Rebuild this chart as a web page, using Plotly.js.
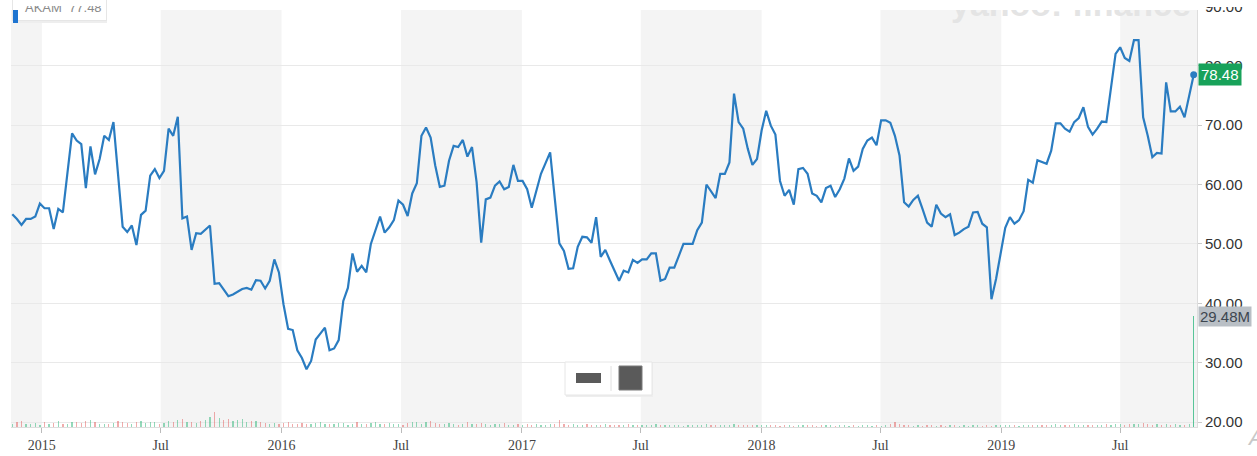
<!DOCTYPE html>
<html>
<head>
<meta charset="utf-8">
<script src="https://cdn.plot.ly/plotly-3.0.1.min.js"></script>
<style>html,body{margin:0;padding:0;background:#fff;}#chart{width:1257px;height:456px;}</style>
</head>
<body>
<div id="chart"></div>
<script>
// Weekly dates (Mondays)
const dates = [
'2014-11-17','2014-11-24','2014-12-01','2014-12-08','2014-12-15','2014-12-22','2014-12-29',
'2015-01-05','2015-01-12','2015-01-19','2015-01-26','2015-02-02','2015-02-09','2015-02-16','2015-02-23','2015-03-02','2015-03-09','2015-03-16','2015-03-23','2015-03-30','2015-04-06','2015-04-13','2015-04-20','2015-04-27','2015-05-04','2015-05-11','2015-05-18','2015-05-25','2015-06-01','2015-06-08','2015-06-15','2015-06-22','2015-06-29','2015-07-06','2015-07-13','2015-07-20','2015-07-27','2015-08-03','2015-08-10','2015-08-17','2015-08-24','2015-08-31','2015-09-07','2015-09-14','2015-09-21','2015-09-28','2015-10-05','2015-10-12','2015-10-19','2015-10-26','2015-11-02','2015-11-09','2015-11-16','2015-11-23','2015-11-30','2015-12-07','2015-12-14','2015-12-21','2015-12-28',
'2016-01-04','2016-01-11','2016-01-18','2016-01-25','2016-02-01','2016-02-08','2016-02-15','2016-02-22','2016-02-29','2016-03-07','2016-03-14','2016-03-21','2016-03-28','2016-04-04','2016-04-11','2016-04-18','2016-04-25','2016-05-02','2016-05-09','2016-05-16','2016-05-23','2016-05-30','2016-06-06','2016-06-13','2016-06-20','2016-06-27','2016-07-04','2016-07-11','2016-07-18','2016-07-25','2016-08-01','2016-08-08','2016-08-15','2016-08-22','2016-08-29','2016-09-05','2016-09-12','2016-09-19','2016-09-26','2016-10-03','2016-10-10','2016-10-17','2016-10-24','2016-10-31','2016-11-07','2016-11-14','2016-11-21','2016-11-28','2016-12-05','2016-12-12','2016-12-19','2016-12-26',
'2017-01-02','2017-01-09','2017-01-16','2017-01-23','2017-01-30','2017-02-06','2017-02-13','2017-02-20','2017-02-27','2017-03-06','2017-03-13','2017-03-20','2017-03-27','2017-04-03','2017-04-10','2017-04-17','2017-04-24','2017-05-01','2017-05-08','2017-05-15','2017-05-22','2017-05-29','2017-06-05','2017-06-12','2017-06-19','2017-06-26','2017-07-03','2017-07-10','2017-07-17','2017-07-24','2017-07-31','2017-08-07','2017-08-14','2017-08-21','2017-08-28','2017-09-04','2017-09-11','2017-09-18','2017-09-25','2017-10-02','2017-10-09','2017-10-16','2017-10-23','2017-10-30','2017-11-06','2017-11-13','2017-11-20','2017-11-27','2017-12-04','2017-12-11','2017-12-18','2017-12-25',
'2018-01-01','2018-01-08','2018-01-15','2018-01-22','2018-01-29','2018-02-05','2018-02-12','2018-02-19','2018-02-26','2018-03-05','2018-03-12','2018-03-19','2018-03-26','2018-04-02','2018-04-09','2018-04-16','2018-04-23','2018-04-30','2018-05-07','2018-05-14','2018-05-21','2018-05-28','2018-06-04','2018-06-11','2018-06-18','2018-06-25','2018-07-02','2018-07-09','2018-07-16','2018-07-23','2018-07-30','2018-08-06','2018-08-13','2018-08-20','2018-08-27','2018-09-03','2018-09-10','2018-09-17','2018-09-24','2018-10-01','2018-10-08','2018-10-15','2018-10-22','2018-10-29','2018-11-05','2018-11-12','2018-11-19','2018-11-26','2018-12-03','2018-12-10','2018-12-17','2018-12-24','2018-12-31',
'2019-01-07','2019-01-14','2019-01-21','2019-01-28','2019-02-04','2019-02-11','2019-02-18','2019-02-25','2019-03-04','2019-03-11','2019-03-18','2019-03-25','2019-04-01','2019-04-08','2019-04-15','2019-04-22','2019-04-29','2019-05-06','2019-05-13','2019-05-20','2019-05-27','2019-06-03','2019-06-10','2019-06-17','2019-06-24','2019-07-01','2019-07-08','2019-07-15','2019-07-22','2019-07-29','2019-08-05','2019-08-12','2019-08-19','2019-08-26','2019-09-02','2019-09-09','2019-09-16','2019-09-23','2019-09-30','2019-10-07','2019-10-14','2019-10-21'
];

// Weekly closing prices
const closes = [
55.0,54.2,53.2,54.2,54.2,54.6,56.8,
56.0,56.0,52.5,55.9,55.3,62.0,68.6,67.4,66.8,59.4,66.4,61.7,64.3,68.2,67.5,70.5,61.5,52.9,52.0,53.1,49.8,54.9,55.6,61.5,62.6,61.1,62.3,69.4,68.2,71.4,54.3,54.6,49.0,51.8,51.7,52.4,53.1,43.3,43.4,42.3,41.2,41.5,41.9,42.4,42.6,42.3,43.9,43.8,42.5,43.8,47.4,45.2,
39.8,35.7,35.5,32.1,30.8,28.9,30.3,33.9,34.9,35.9,32.1,32.4,33.8,40.4,42.6,48.4,45.3,46.3,45.2,50.0,52.3,54.6,51.9,52.8,54.0,57.3,56.6,54.7,58.5,60.2,68.2,69.6,67.9,63.2,59.6,59.8,64.0,66.5,66.3,67.5,64.7,66.3,60.4,50.2,57.5,57.8,59.8,60.5,59.2,59.6,63.3,60.6,
60.6,59.2,56.1,59.2,61.8,63.6,65.4,57.7,50.1,48.8,45.8,45.9,49.5,51.2,51.1,50.2,54.5,47.8,49.0,47.2,45.5,43.8,45.5,45.2,47.3,46.8,47.4,47.4,48.4,48.4,43.8,44.1,46.0,46.0,48.0,50.0,50.0,50.0,52.3,53.6,60.0,58.8,57.7,61.8,61.8,63.7,75.3,70.5,69.4,66.0,63.3,64.3,
69.1,72.4,69.9,68.4,60.6,58.1,59.1,56.6,62.6,62.8,61.8,58.5,58.1,57.0,59.4,59.8,57.9,59.2,61.0,64.4,62.3,63.0,66.0,67.4,67.9,66.6,70.8,70.8,70.4,68.2,64.9,57.0,56.3,57.4,58.1,55.9,53.6,52.9,56.6,55.1,54.5,55.0,51.5,51.9,52.5,52.9,55.3,55.4,53.4,52.8,40.7,44.1,48.5,
52.7,54.5,53.4,54.0,55.5,60.8,60.3,64.1,63.8,63.5,65.7,70.3,70.3,69.4,68.9,70.5,71.2,73.0,69.7,68.4,69.4,70.6,70.5,76.7,82.0,83.1,81.3,80.8,84.3,84.3,71.3,68.2,64.6,65.3,65.2,77.2,72.3,72.3,73.1,71.3,74.9,78.48
];

// Weekly volume, millions of shares
const volumesM = [
0.8,1.2,1.6,0.9,0.7,1.1,0.6,
1.3,0.9,1.0,1.5,0.8,0.9,1.2,1.4,1.0,1.6,1.9,1.3,0.8,0.7,
0.9,1.1,1.7,1.2,1.0,0.8,1.3,1.5,1.0,1.2,1.4,0.9,1.1,1.6,1.3,1.8,2.1,1.4,1.2,1.0,
1.5,1.9,2.6,3.9,2.4,1.8,2.1,1.6,1.9,2.2,1.3,1.5,1.7,1.2,1.0,0.9,1.1,0.8,
1.0,1.3,0.9,0.8,1.1,0.7,0.9,1.0,1.2,0.8,0.7,0.9,1.0,1.1,0.6,0.8,1.2,0.9,0.7,1.0,1.3,0.8,
0.9,1.1,0.8,0.7,0.6,1.0,1.4,1.2,0.9,1.3,1.5,1.1,0.8,0.9,1.0,0.7,0.6,0.9,1.2,0.8,0.7,1.0,0.9,0.6,0.8,0.7,1.1,0.6,0.5,0.7,
0.6,0.7,0.5,0.8,0.6,0.5,0.9,0.7,1.9,0.8,0.6,0.7,0.5,0.6,0.8,0.5,0.4,0.6,0.7,0.5,0.6,0.4,0.5,0.7,0.6,0.5,0.4,0.6,0.5,0.7,
0.5,0.4,0.6,0.5,0.4,0.3,0.5,0.6,0.4,0.5,0.7,0.5,0.4,0.6,0.5,0.4,0.8,0.6,0.5,0.4,0.5,0.6,
0.4,0.5,0.6,0.4,0.3,0.5,0.4,0.3,0.4,0.5,0.4,0.6,0.3,0.4,0.5,0.4,0.3,0.4,0.5,0.3,0.4,0.3,0.5,0.4,0.3,0.4,0.3,0.5,
0.7,1.3,0.9,0.5,0.4,0.3,0.4,0.3,0.5,0.4,0.3,0.4,0.3,0.4,0.5,0.3,0.4,0.3,0.4,0.5,0.3,0.4,0.3,0.6,0.5,
0.4,0.5,0.4,0.3,0.4,0.5,0.6,0.5,0.4,0.6,0.5,0.7,0.6,0.5,0.6,0.7,0.5,0.6,0.5,0.4,0.6,0.5,0.7,0.6,0.8,
0.7,0.6,0.9,0.8,0.7,1.0,0.8,0.6,0.7,0.5,0.8,0.6,0.7,0.6,0.5,0.7,29.48
];

const xTickVals = ['2015-01-01','2015-07-01','2016-01-01','2016-07-01','2017-01-01','2017-07-01','2018-01-01','2018-07-01','2019-01-01','2019-07-01'];
const xTickText = ['2015','Jul','2016','Jul','2017','Jul','2018','Jul','2019','Jul'];
const yTickVals = [20,30,40,50,60,70,80,90];
const shadedStarts = ['2014-11-15','2015-07-01','2016-07-01','2017-07-01','2018-07-01','2019-07-01'];
const shadedEnds   = ['2015-01-01','2016-01-01','2017-01-01','2018-01-01','2019-01-01','2019-10-26'];
const xRange = ['2014-11-15','2019-10-26'];
const legendLabel = 'AKAM  77.48';

// pixel helpers for chrome (plot area: x 11..1197, y 0..427)
const PL = 11, PW = 1186, PH = 427;
const px = v => (v - PL) / PW;
const py = v => (PH - v) / PH;

const volColors = closes.map((c, i) => (i === 0 || c >= closes[i-1]) ? 'rgba(60,185,130,0.55)' : 'rgba(225,90,90,0.5)');
volColors[volColors.length-1] = 'rgba(50,185,130,0.8)';

const last = closes.length - 1;
const blue = '#2a7cc1';

const traces = [
  {type:'bar', x:dates, y:volumesM, yaxis:'y2', marker:{color:volColors, line:{width:0}}, width:1.9*86400000, hoverinfo:'skip', showlegend:false},
  {type:'scatter', mode:'lines', x:dates, y:closes, line:{color:blue, width:2.2}, hoverinfo:'skip', showlegend:false},
  {type:'scatter', mode:'markers', x:[dates[last]], y:[closes[last]], marker:{color:blue, size:7}, hoverinfo:'skip', showlegend:false}
];

const shapes = [];
for (let i = 0; i < shadedStarts.length; i++) {
  shapes.push({type:'rect', xref:'x', yref:'paper', x0:shadedStarts[i], x1:shadedEnds[i], y0:0, y1:1, fillcolor:'#f4f4f4', line:{width:0}, layer:'below'});
}
// range buttons (center bottom)
shapes.push({type:'rect', xref:'paper', yref:'paper', x0:px(566), x1:px(653), y0:py(397), y1:py(363), fillcolor:'#eeeeee', line:{width:0}, layer:'above'});
shapes.push({type:'rect', xref:'paper', yref:'paper', x0:px(565), x1:px(652), y0:py(395), y1:py(362), fillcolor:'#ffffff', line:{color:'#e6e6e6', width:1}, layer:'above'});
shapes.push({type:'rect', xref:'paper', yref:'paper', x0:px(576), x1:px(601), y0:py(383), y1:py(373), fillcolor:'#5a5a5a', line:{width:0}, layer:'above'});
shapes.push({type:'line', xref:'paper', yref:'paper', x0:px(611), x1:px(611), y0:py(391), y1:py(366), line:{color:'#e0e0e0', width:1}, layer:'above'});
shapes.push({type:'rect', xref:'paper', yref:'paper', x0:px(619), x1:px(642), y0:py(390), y1:py(366), fillcolor:'#5a5a5a', line:{color:'#7a7a7a', width:1}, layer:'above'});

// white strip helper (annotation boxes drawn in order, so later ones cover earlier ones)
const cover = (x0, x1, h, color) => ({xref:'paper', yref:'paper', x:px(x0), y:1, xanchor:'left', yanchor:'top',
  width:x1-x0, height:h, text:'&nbsp;', bgcolor:color || '#ffffff', borderpad:0, borderwidth:0, showarrow:false, font:{size:4}});

const annotations = [
  {xref:'paper', yref:'y', x:1, y:closes[last], xanchor:'left', yanchor:'middle', xshift:1, showarrow:false,
   text:closes[last].toFixed(2), bgcolor:'#18a25a', borderpad:2, font:{family:'Liberation Sans, Arial', size:15, color:'#ffffff'}},
  {xref:'paper', yref:'y2', x:1, y:volumesM[last], xanchor:'left', yanchor:'middle', xshift:1, showarrow:false,
   text:volumesM[last].toFixed(2)+'M', bgcolor:'#b9bfc5', borderpad:1, font:{family:'Liberation Sans, Arial', size:15, color:'#3d4650'}},
  {xref:'paper', yref:'paper', x:px(1071), y:1, xanchor:'center', yanchor:'bottom', yshift:-25, showarrow:false,
   text:'<b>yahoo! finance</b>', font:{family:'Liberation Sans, Arial', size:34, color:'#e4e4e4'}},
  {xref:'paper', yref:'paper', x:px(1245), y:py(437), xanchor:'left', yanchor:'middle', showarrow:false,
   text:'<i>A</i>', font:{family:'Liberation Sans, Arial', size:22, color:'#c8c8c8'}},
  // top white strip above the plot area, and clipping of the top tick label
  cover(0, 1198, 10),
  cover(1198, 1257, 7),
  // legend box (cut at the top)
  {xref:'paper', yref:'paper', x:px(13), y:py(23), xanchor:'left', yanchor:'bottom', width:94, height:30,
   text:'&nbsp;', bgcolor:'#eeeeee', borderpad:0, borderwidth:0, showarrow:false, font:{size:4}},
  {xref:'paper', yref:'paper', x:px(12), y:py(21), xanchor:'left', yanchor:'bottom', width:93, height:30,
   text:'&nbsp;', bgcolor:'#ffffff', bordercolor:'#e6e6e6', borderpad:0, borderwidth:1, showarrow:false, font:{size:4}},
  {xref:'paper', yref:'paper', x:px(13), y:py(23), xanchor:'left', yanchor:'bottom', width:5, height:13,
   text:'&nbsp;', bgcolor:'#1e74d0', borderpad:0, borderwidth:0, showarrow:false, font:{size:4}},
  {xref:'paper', yref:'paper', x:px(24), y:py(16), xanchor:'left', yanchor:'bottom', showarrow:false, borderpad:0,
   text:legendLabel, font:{family:'Liberation Sans, Arial', size:13, color:'#8a8a8a'}},
  cover(21, 104, 6)
];

const layout = {
  width:1257, height:456,
  margin:{l:PL, r:1257-PL-PW, t:0, b:456-PH},
  paper_bgcolor:'#ffffff', plot_bgcolor:'#ffffff',
  showlegend:false,
  xaxis:{type:'date', range:xRange, tickmode:'array', tickvals:xTickVals, ticktext:xTickText,
    tickfont:{family:'Liberation Serif, Times New Roman', size:14, color:'#444'},
    showgrid:false, zeroline:false, showline:true, linecolor:'#dddddd', linewidth:1,
    ticks:'outside', ticklen:5, tickcolor:'#bbbbbb', fixedrange:true},
  yaxis:{side:'right', range:[19.18, 91.06], tickmode:'array', tickvals:yTickVals, tickformat:'.2f',
    tickfont:{family:'Liberation Sans, Arial', size:15, color:'#333'}, ticklabeloverflow:'allow',
    showgrid:true, gridcolor:'#e9e9e9', gridwidth:1, zeroline:false, showline:true, linecolor:'#dddddd',
    ticks:'outside', ticklen:4, tickcolor:'#cccccc', fixedrange:true},
  yaxis2:{overlaying:'y', range:[0, 113.4], visible:false, fixedrange:true},
  shapes:shapes, annotations:annotations, bargap:0
};

Plotly.newPlot('chart', traces, layout, {displayModeBar:false, staticPlot:true});
</script>
</body>
</html>
